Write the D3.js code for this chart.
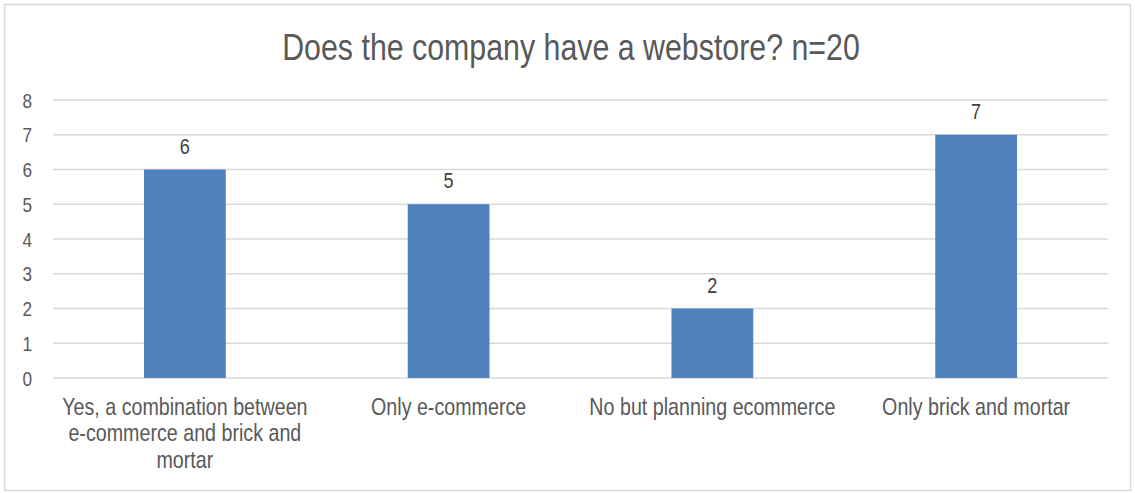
<!DOCTYPE html>
<html>
<head>
    <script src="https://cdn.jsdelivr.net/npm/d3@7"></script>
    <style>
        body { margin: 0; background: #fff; }
        #chart { width: 1135px; height: 493px; display: block; }
        text { font-family: "Liberation Sans", Arial, sans-serif; fill: #595959; }
    </style>
</head>
<body>

<svg id="chart"></svg>

<script>
    // chart data
    const title = "Does the company have a webstore? n=20";
    const categories = [
        "Yes, a combination between e-commerce and brick and mortar",
        "Only e-commerce",
        "No but planning ecommerce",
        "Only brick and mortar"
    ];
    const counts = [6, 5, 2, 7];
    const yTicks = [0, 1, 2, 3, 4, 5, 6, 7, 8];

    const width = 1135, height = 493;
    const margin = {top: 100, right: 27, bottom: 115, left: 53};
    const narrow = 0.82; // no narrow font installed, squeeze glyphs instead

    const svg = d3.select("#chart");

    // place text at (px,py) with a horizontal squeeze
    function at(px, py) {
        return `translate(${px},${py}) scale(${narrow},1)`;
    }

    // outer frame
    svg.append("rect")
        .attr("x", 4.5).attr("y", 4.5)
        .attr("width", width - 9).attr("height", height - 7)
        .attr("fill", "#fff")
        .attr("stroke", "#d9d9d9")
        .attr("stroke-width", 1.5);

    svg.append("text")
        .attr("transform", at(571, 60))
        .attr("text-anchor", "middle")
        .style("font-size", "37px")
        .text(title);

    const x = d3.scaleBand()
        .domain(categories)
        .range([margin.left, width - margin.right])
        .paddingInner(0.69)
        .paddingOuter(0.345);

    const y = d3.scaleLinear()
        .domain([0, 8])
        .range([height - margin.bottom, margin.top]);

    // gridlines
    svg.append("g").selectAll("line")
        .data(yTicks)
        .join("line")
        .attr("x1", margin.left).attr("x2", width - margin.right)
        .attr("y1", d => y(d)).attr("y2", d => y(d))
        .attr("stroke", "#d9d9d9")
        .attr("stroke-width", 1.5);

    // y tick labels
    svg.append("g").selectAll("text")
        .data(yTicks)
        .join("text")
        .attr("transform", d => at(32, y(d)))
        .attr("dy", "0.36em")
        .attr("text-anchor", "end")
        .style("font-size", "21px")
        .text(d => d);

    // bars
    svg.append("g").selectAll("rect")
        .data(counts)
        .join("rect")
        .attr("x", (d, i) => x(categories[i]))
        .attr("width", x.bandwidth())
        .attr("y", d => y(d))
        .attr("height", d => y(0) - y(d))
        .attr("fill", "#4f81bd");

    // value labels
    svg.append("g").selectAll("text")
        .data(counts)
        .join("text")
        .attr("transform", (d, i) => at(x(categories[i]) + x.bandwidth() / 2, y(d) - 16))
        .attr("text-anchor", "middle")
        .style("font-size", "22px")
        .style("fill", "#404040")
        .text(d => d);

    // category labels, wrapped
    const labels = svg.append("g").selectAll("text")
        .data(categories)
        .join("text")
        .attr("transform", d => at(x(d) + x.bandwidth() / 2, 415))
        .attr("text-anchor", "middle")
        .style("font-size", "24px");

    labels.each(function (d) {
        const el = d3.select(this);
        const maxW = 258 / narrow;
        const words = d.split(" ");
        let line = [];
        let tspan = el.append("tspan").attr("x", 0).attr("dy", 0);
        for (const w of words) {
            line.push(w);
            tspan.text(line.join(" "));
            if (tspan.node().getComputedTextLength() > maxW && line.length > 1) {
                line.pop();
                tspan.text(line.join(" "));
                line = [w];
                tspan = el.append("tspan").attr("x", 0).attr("dy", 26.5).text(w);
            }
        }
    });
</script>
</body>
</html>
